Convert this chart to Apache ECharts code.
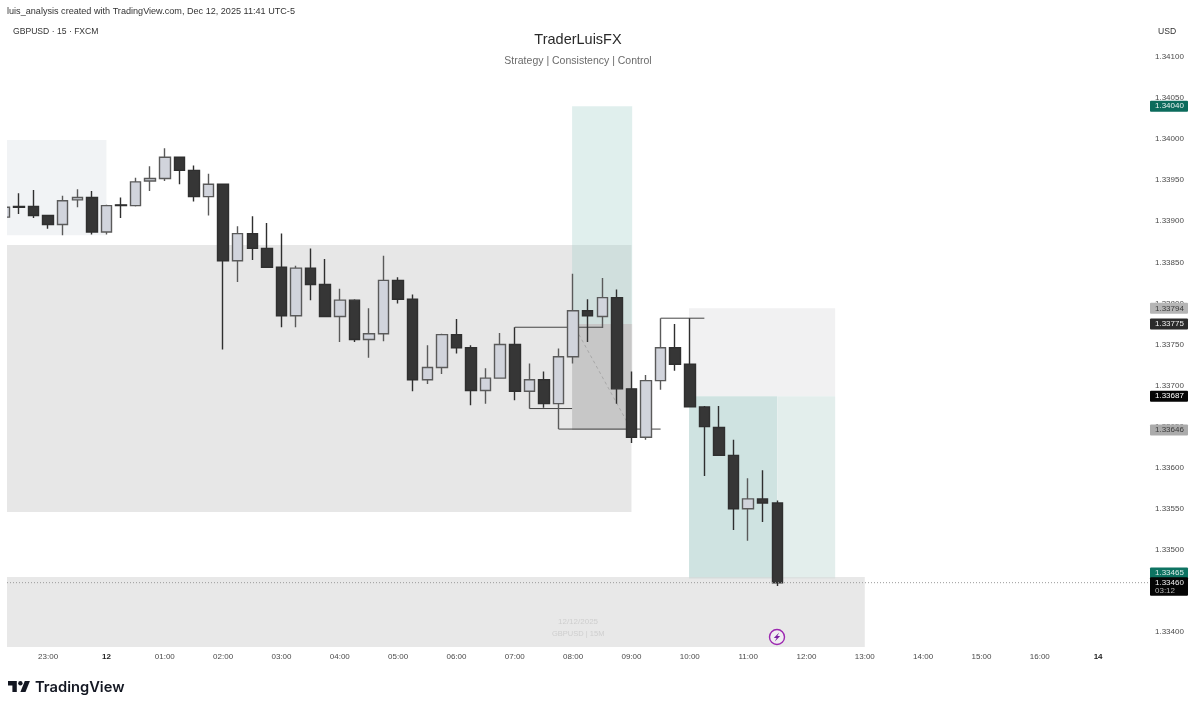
<!DOCTYPE html>
<html>
<head>
<meta charset="utf-8">
<title>GBPUSD 15</title>
<script src="https://cdn.jsdelivr.net/npm/echarts@6/dist/echarts.min.js"></script>
<style>
  html, body { margin: 0; padding: 0; background: #fff; }
  #chart { width: 1199px; height: 709px; }
</style>
</head>
<body>
<div id="chart"></div>
<script>
// candles, oldest first. index 0 is the 22:15 bar, cut by the left edge of the pane
const opens = [
  1.33905, 1.33918, 1.33918, 1.33907, 1.33896, 1.33926, 1.33929, 1.33887, 1.33920, 1.33919,
  1.33949, 1.33952, 1.33978, 1.33962, 1.33930, 1.33945, 1.33852, 1.33885, 1.33867, 1.33844,
  1.33785, 1.33843, 1.33823, 1.33784, 1.33804, 1.33756, 1.33763, 1.33828, 1.33805, 1.33707,
  1.33722, 1.33762, 1.33746, 1.33694, 1.33709, 1.33750, 1.33693, 1.33707, 1.33678, 1.33735,
  1.33791, 1.33784, 1.33807, 1.33696, 1.33637, 1.33706, 1.33746, 1.33726, 1.33674, 1.33649,
  1.33615, 1.33550, 1.33562, 1.33557
];
const closes = [
  1.33917, 1.33917, 1.33907, 1.33896, 1.33925, 1.33929, 1.33887, 1.33919, 1.33919, 1.33948,
  1.33952, 1.33978, 1.33962, 1.33930, 1.33945, 1.33852, 1.33885, 1.33867, 1.33844, 1.33785,
  1.33843, 1.33823, 1.33784, 1.33804, 1.33756, 1.33763, 1.33828, 1.33805, 1.33707, 1.33722,
  1.33762, 1.33746, 1.33694, 1.33709, 1.33750, 1.33693, 1.33707, 1.33678, 1.33735, 1.33791,
  1.33785, 1.33807, 1.33696, 1.33637, 1.33706, 1.33746, 1.33726, 1.33674, 1.33650, 1.33615,
  1.33550, 1.33562, 1.33557, 1.33460
];
const lows = [
  1.33903, 1.33909, 1.33904, 1.33891, 1.33883, 1.33917, 1.33884, 1.33884, 1.33904, 1.33918,
  1.33937, 1.33949, 1.33945, 1.33924, 1.33907, 1.33744, 1.33826, 1.33853, 1.33844, 1.33771,
  1.33771, 1.33804, 1.33784, 1.33753, 1.33753, 1.33734, 1.33754, 1.33800, 1.33693, 1.33702,
  1.33714, 1.33739, 1.33676, 1.33678, 1.33709, 1.33682, 1.33672, 1.33673, 1.33647, 1.33727,
  1.33753, 1.33770, 1.33678, 1.33630, 1.33634, 1.33695, 1.33718, 1.33674, 1.33590, 1.33615,
  1.33524, 1.33511, 1.33534, 1.33456
];
const highs = [
  1.33918, 1.33934, 1.33938, 1.33907, 1.33931, 1.33939, 1.33937, 1.33920, 1.33929, 1.33953,
  1.33967, 1.33989, 1.33978, 1.33968, 1.33958, 1.33945, 1.33894, 1.33906, 1.33898, 1.33885,
  1.33846, 1.33867, 1.33854, 1.33818, 1.33805, 1.33794, 1.33858, 1.33832, 1.33811, 1.33749,
  1.33763, 1.33781, 1.33749, 1.33721, 1.33764, 1.33771, 1.33727, 1.33717, 1.33745, 1.33836,
  1.33805, 1.33831, 1.33817, 1.33717, 1.33713, 1.33782, 1.33775, 1.33782, 1.33675, 1.33675,
  1.33634, 1.33587, 1.33597, 1.33560
];

const xTickBars = [3, 7, 11, 15, 19, 23, 27, 31, 35, 39, 43, 47, 51, 55, 59, 63, 67, 71, 75];
const xTickLabels = ['23:00', '12', '01:00', '02:00', '03:00', '04:00', '05:00', '06:00', '07:00', '08:00',
  '09:00', '10:00', '11:00', '12:00', '13:00', '14:00', '15:00', '16:00', '14'];
const yTickValues = [1.334, 1.3345, 1.335, 1.3355, 1.336, 1.3365, 1.337, 1.3375, 1.338, 1.3385,
  1.339, 1.3395, 1.34, 1.3405, 1.341];

const paneLeftBar = 0.18;
const paneRightBar = 78.49;
const paneLow = 1.333817;
const paneHigh = 1.341694;

// price levels on the right scale
const tagPrices = [1.34040, 1.33794, 1.33775, 1.33687, 1.33646, 1.33465, 1.33460];
const tagFills = ['#0b6b5c', '#b5b5b5', '#2b2b2b', '#050505', '#ababab', '#0e7362', '#050505'];
const tagInks = ['#e8f2f0', '#3a3a3a', '#f0f0f0', '#ffffff', '#3a3a3a', '#d9ece8', '#f0f0f0'];
const tagNudges = [0, 0, 0, 0, 0, -5.5, 0];
const countdown = '03:12';

// [left bar, right bar, top price, bottom price]
const zoneBoxes = [
  [paneLeftBar, 7, 1.33999, 1.33883],
  [paneLeftBar, 43, 1.33871, 1.33546],
  [38.93, 43.05, 1.34040, 1.33775],
  [38.93, 43.05, 1.33775, 1.33646],
  [46.95, 56.97, 1.33794, 1.33687],
  [46.95, 53, 1.33687, 1.33465],
  [53, 56.97, 1.33687, 1.33465],
  [paneLeftBar, 59, 1.33467, paneLow]
];
const zoneColors = ['#f1f3f5', '#e7e7e7', 'rgba(160,205,198,0.32)', 'rgba(120,120,120,0.28)', '#f1f1f2',
  '#cfe3e1', '#e3eeec', 'rgba(215,215,215,0.58)'];

const connectorLines = [
  [[35, 1.33771], [41, 1.33771]],
  [[36, 1.33672], [38.93, 1.33672]],
  [[38, 1.33647], [45, 1.33647]],
  [[45, 1.33782], [48, 1.33782]]
];
const tradePath = [[39, 1.33775], [43, 1.33646]];
const lastPriceLine = [[paneLeftBar, 1.33460], [paneRightBar, 1.33460]];

const LABEL_FONT = '"Liberation Sans", Arial, sans-serif';

const chart = echarts.init(document.getElementById('chart'));

const candleData = opens.map(function (o, i) {
  return [i, o, closes[i], lows[i], highs[i]];
});
const zoneData = zoneBoxes.map(function (z, i) {
  return [
    { xAxis: z[0], yAxis: z[2], itemStyle: { color: zoneColors[i], opacity: 1 } },
    { xAxis: z[1], yAxis: z[3] }
  ];
});
const connectorSeries = connectorLines.map(function (points) {
  return {
    type: 'line',
    data: points,
    z: 2,
    symbol: 'none',
    silent: true,
    lineStyle: { color: '#444', width: 1 }
  };
});

function renderTag(params, api) {
  const i = params.dataIndex;
  const pt = api.coord([api.value(0), api.value(1)]);
  const y = pt[1] + tagNudges[i];
  const isLast = i === tagPrices.length - 1;
  const children = [
    {
      type: 'rect',
      shape: { x: pt[0] + 1, y: y - 5.5, width: 38, height: isLast ? 18.5 : 11, r: 1 },
      style: { fill: tagFills[i] }
    },
    {
      type: 'text',
      style: {
        x: pt[0] + 6,
        y: y,
        text: tagPrices[i].toFixed(5),
        fill: tagInks[i],
        font: '8px ' + LABEL_FONT,
        textAlign: 'left',
        textVerticalAlign: 'middle'
      }
    }
  ];
  if (isLast) {
    children.push({
      type: 'text',
      style: {
        x: pt[0] + 6,
        y: y + 8.5,
        text: countdown,
        fill: '#b5b5b5',
        font: '8px ' + LABEL_FONT,
        textAlign: 'left',
        textVerticalAlign: 'middle'
      }
    });
  }
  return { type: 'group', children: children };
}

function textItem(text, x, y, size, fill, extra) {
  return {
    type: 'text',
    left: x,
    top: y,
    silent: true,
    style: Object.assign({
      text: text,
      fill: fill,
      font: size + 'px ' + LABEL_FONT
    }, extra || {})
  };
}

chart.setOption({
  animation: false,
  backgroundColor: '#ffffff',
  title: {
    left: 573,
    top: 27,
    textAlign: 'center',
    text: 'TraderLuisFX',
    subtext: 'Strategy | Consistency | Control',
    itemGap: 9,
    textStyle: { fontFamily: LABEL_FONT, fontSize: 14.5, fontWeight: 'normal', color: '#2a2a2a' },
    subtextStyle: { fontFamily: LABEL_FONT, fontSize: 10.5, color: '#6b6b6b' }
  },
  grid: { left: 7, right: 50, top: 0, height: 647 },
  xAxis: {
    type: 'value',
    min: paneLeftBar,
    max: paneRightBar,
    splitLine: { show: false },
    axisLine: { show: false },
    axisTick: { show: false },
    axisLabel: {
      customValues: xTickBars,
      margin: 6,
      fontSize: 8,
      fontFamily: LABEL_FONT,
      color: '#4a4a4a',
      formatter: function (value) {
        const label = xTickLabels[xTickBars.indexOf(value)];
        return label.length < 3 ? '{day|' + label + '}' : label;
      },
      rich: {
        day: { fontSize: 8, fontWeight: 'bold', color: '#222', fontFamily: LABEL_FONT }
      }
    }
  },
  yAxis: {
    type: 'value',
    position: 'right',
    min: paneLow,
    max: paneHigh,
    splitLine: { show: false },
    axisLine: { show: false },
    axisTick: { show: false },
    axisLabel: {
      customValues: yTickValues,
      margin: 6,
      fontSize: 8,
      fontFamily: LABEL_FONT,
      color: '#4a4a4a',
      formatter: function (value) {
        return value.toFixed(5);
      }
    }
  },
  series: [
    {
      type: 'line',
      data: [],
      silent: true,
      markArea: { silent: true, z: 1, data: zoneData }
    },
    {
      type: 'line',
      data: tradePath,
      z: 2,
      symbol: 'none',
      silent: true,
      lineStyle: { color: '#a8a8a8', width: 1, type: [3, 3] }
    }
  ].concat(connectorSeries, [
    {
      type: 'candlestick',
      data: candleData,
      encode: { x: 0, y: [1, 2, 3, 4] },
      barWidth: 11,
      z: 3,
      itemStyle: {
        color: '#d1d4dc',
        color0: '#363636',
        borderColor: '#5a5a5a',
        borderColor0: '#2f2f2f',
        borderWidth: 1.4
      }
    },
    {
      type: 'line',
      data: lastPriceLine,
      z: 4,
      symbol: 'none',
      silent: true,
      lineStyle: { color: '#9a9a9a', width: 1, type: [1, 2] }
    },
    {
      type: 'custom',
      z: 10,
      silent: true,
      encode: { x: 0, y: 1 },
      data: tagPrices.map(function (p) { return [paneRightBar, p]; }),
      renderItem: renderTag
    }
  ]),
  graphic: [
    // candlestick clip keeps the whole first bar, so mask what falls left of the pane
    {
      type: 'rect',
      silent: true,
      z: 30,
      shape: { x: 0, y: 190, width: 7, height: 50 },
      style: { fill: '#ffffff' }
    },
    textItem('luis_analysis created with TradingView.com, Dec 12, 2025 11:41 UTC-5', 7, 7, 9.1, '#333'),
    textItem('GBPUSD · 15 · FXCM', 13, 27, 8.6, '#333'),
    textItem('USD', 1158, 27, 8.6, '#333'),
    textItem('12/12/2025', 558, 618, 8, '#c2c2c2'),
    textItem('GBPUSD | 15M', 552, 630, 7.5, '#c2c2c2'),
    {
      type: 'circle',
      silent: true,
      z: 20,
      shape: { cx: 777, cy: 637, r: 7.5 },
      style: { fill: '#f0edf1', stroke: '#9c27b0', lineWidth: 1.4 }
    },
    {
      type: 'polygon',
      silent: true,
      z: 21,
      shape: { points: [[779.2, 632.6], [773.8, 638], [776.6, 638], [774.8, 641.4], [780.2, 636], [777.4, 636]] },
      style: { fill: '#7b1fa2' }
    },
    // tradingview mark
    {
      type: 'polygon',
      silent: true,
      shape: { points: [[8, 681], [16.8, 681], [16.8, 692], [12.4, 692], [12.4, 685.4], [8, 685.4]] },
      style: { fill: '#131722' }
    },
    {
      type: 'polygon',
      silent: true,
      shape: { points: [[25.5, 692], [20.4, 692], [24.8, 681], [29.9, 681]] },
      style: { fill: '#131722' }
    },
    {
      type: 'circle',
      silent: true,
      shape: { cx: 20.4, cy: 683.2, r: 2.2 },
      style: { fill: '#131722' }
    },
    textItem('TradingView', 35, 680, 15, '#131722', { font: '600 14.7px Inter, ' + LABEL_FONT })
  ]
});
</script>
</body>
</html>
